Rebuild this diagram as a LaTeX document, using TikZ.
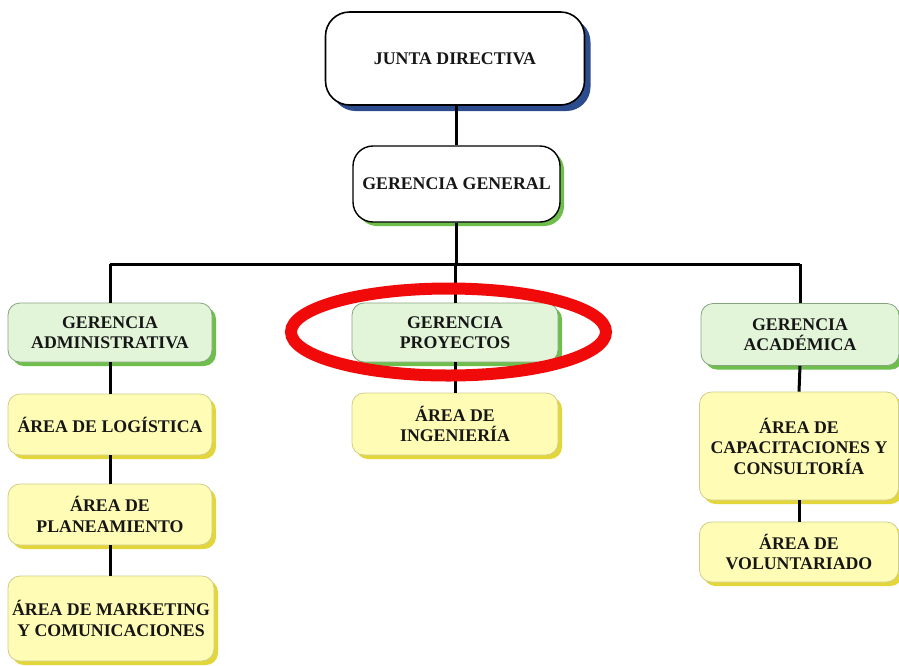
\documentclass[tikz,border=0pt]{standalone}
\usepackage{fontspec}
\setmainfont{Liberation Serif}
\usetikzlibrary{shadows,shapes.geometric}
\definecolor{navyshadow}{HTML}{2D4C8E}
\definecolor{grnshadow}{HTML}{6DBE4B}
\definecolor{grnfill}{HTML}{E3F5D9}
\definecolor{grnborder}{HTML}{86A47E}
\definecolor{ylwfill}{HTML}{FFFDB5}
\definecolor{ylwshadow}{HTML}{E2D63A}
\definecolor{ylwborder}{HTML}{CFCC8C}
\definecolor{txt}{HTML}{161616}
\definecolor{ringred}{HTML}{F00A0A}
\begin{document}
\begin{tikzpicture}[x=1pt,y=-1pt,
  font=\fontsize{17.8}{20.5}\selectfont\bfseries,
  every node/.style={align=center, inner sep=0pt, text=txt},
  topbox/.style={draw=black, line width=1.6pt, fill=white, rounded corners=24pt,
    drop shadow={shadow xshift=6pt, shadow yshift=-6pt, fill=navyshadow, opacity=1}},
  genbox/.style={draw=black, line width=1.4pt, fill=white, rounded corners=20pt,
    drop shadow={shadow xshift=4pt, shadow yshift=-4pt, fill=grnshadow, opacity=1}},
  grnbox/.style={draw=grnborder, line width=0.8pt, fill=grnfill, rounded corners=12pt,
    drop shadow={shadow xshift=4pt, shadow yshift=-4pt, fill=grnshadow, opacity=1}},
  ylwbox/.style={draw=ylwborder, line width=0.8pt, fill=ylwfill, rounded corners=12pt,
    drop shadow={shadow xshift=4pt, shadow yshift=-4pt, fill=ylwshadow, opacity=1}},
  conn/.style={line width=3pt, black},
  ring/.style={draw=ringred, line width=12pt}
]
\useasboundingbox (0,0) rectangle (899,665);

\node[topbox, minimum width=259pt, minimum height=93pt] (jd) at (455,58.5) {JUNTA DIRECTIVA};
\node[genbox, minimum width=207pt, minimum height=76pt] (gg) at (456.5,184) {GERENCIA GENERAL};

\node[grnbox, minimum width=204pt, minimum height=59pt] (ga) at (110,332.5) {GERENCIA\\ADMINISTRATIVA};
\node[grnbox, minimum width=206pt, minimum height=59pt] (gp) at (455,332.5) {GERENCIA\\PROYECTOS};
\node[grnbox, minimum width=198pt, minimum height=62pt] (gac) at (800,334.5) {GERENCIA\\ACADÉMICA};

\node[ylwbox, minimum width=204pt, minimum height=61pt] (log) at (110,424.5) {ÁREA DE LOGÍSTICA};
\node[ylwbox, minimum width=204pt, minimum height=61pt] (pla) at (110,514.5) {ÁREA DE\\PLANEAMIENTO};
\node[ylwbox, minimum width=206pt, minimum height=85pt] (mkt) at (111,618.5) {ÁREA DE MARKETING\\Y COMUNICACIONES};
\node[ylwbox, minimum width=206pt, minimum height=62pt] (ing) at (455,424) {ÁREA DE\\INGENIERÍA};
\node[ylwbox, minimum width=199pt, minimum height=108pt] (cap) at (799,446) {ÁREA DE\\CAPACITACIONES Y\\CONSULTORÍA};
\node[ylwbox, minimum width=199pt, minimum height=60pt] (vol) at (799,552) {ÁREA DE\\VOLUNTARIADO};

\coordinate (hb) at (457,264);
\draw[conn] (jd.south -| gg.south) -- (gg.north);
\draw[conn] (gg.south) -- (gg.south |- hb);
\draw[conn] (ga.north |- hb) -- (gac.north |- hb);
\draw[conn] (ga.north |- hb) -- (ga.north);
\draw[conn] (gp.north |- hb) -- (gp.north);
\draw[conn] (gac.north |- hb) -- (gac.north);
\draw[conn] (ga.south) -- (log.north);
\draw[conn] (log.south) -- (pla.north);
\draw[conn] (pla.south) -- (mkt.north -| pla.south);
\draw[conn] (gp.south) -- (ing.north);
\draw[conn] (gac.south) -- (cap.north);
\draw[conn] (cap.south) -- (vol.north);

\node[ring, ellipse, minimum width=315pt, minimum height=87pt] (hl) at (448.5,332) {};
\end{tikzpicture}
\end{document}
